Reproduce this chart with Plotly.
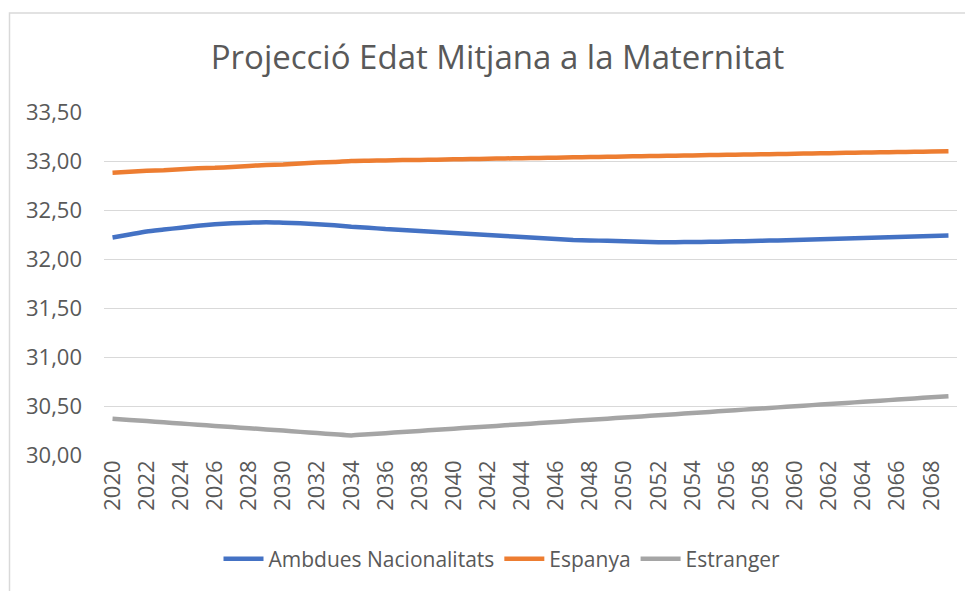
import plotly.graph_objects as go

years = [str(y) for y in range(2020, 2070)]

ambdues = [32.22, 32.25, 32.28, 32.30, 32.32, 32.34, 32.355, 32.365, 32.37, 32.375,
           32.37, 32.365, 32.355, 32.345, 32.33, 32.32, 32.305, 32.295, 32.285, 32.275,
           32.265, 32.255, 32.245, 32.235, 32.225, 32.215, 32.205, 32.195, 32.19, 32.185,
           32.18, 32.175, 32.172, 32.172, 32.173, 32.175, 32.178, 32.182, 32.186, 32.19,
           32.195, 32.20, 32.205, 32.21, 32.215, 32.22, 32.225, 32.23, 32.235, 32.24]

espanya = [32.88, 32.89, 32.90, 32.905, 32.915, 32.925, 32.93, 32.94, 32.95, 32.96,
           32.965, 32.975, 32.985, 32.99, 33.00, 33.003, 33.006, 33.009, 33.011, 33.014,
           33.017, 33.020, 33.023, 33.026, 33.029, 33.031, 33.034, 33.037, 33.040, 33.043,
           33.046, 33.049, 33.051, 33.054, 33.057, 33.060, 33.063, 33.066, 33.069, 33.071,
           33.074, 33.077, 33.080, 33.083, 33.086, 33.089, 33.091, 33.094, 33.097, 33.100]

estranger = [30.37, 30.358, 30.346, 30.334, 30.321, 30.309, 30.297, 30.285, 30.273, 30.261,
             30.249, 30.236, 30.224, 30.212, 30.20, 30.211, 30.223, 30.234, 30.246, 30.257,
             30.269, 30.28, 30.291, 30.303, 30.314, 30.326, 30.337, 30.349, 30.36, 30.371,
             30.383, 30.394, 30.406, 30.417, 30.429, 30.44, 30.451, 30.463, 30.474, 30.486,
             30.497, 30.509, 30.52, 30.531, 30.543, 30.554, 30.566, 30.577, 30.589, 30.60]

series_names = ["Ambdues Nacionalitats", "Espanya", "Estranger"]
series_colors = ["#4472C4", "#ED7D31", "#A5A5A5"]
y_ticks = [30.0, 30.5, 31.0, 31.5, 32.0, 32.5, 33.0, 33.5]
y_ticklabels = ["30,00", "30,50", "31,00", "31,50", "32,00", "32,50", "33,00", "33,50"]
x_ticks = years[::2]

fig = go.Figure()
for name, vals, col in zip(series_names, [ambdues, espanya, estranger], series_colors):
    fig.add_trace(go.Scatter(x=years, y=vals, name=name, mode="lines",
                             line=dict(color=col, width=4.5, shape="spline", smoothing=0.6)))

# page has an 8px body margin; figure is sized so it fits the 973x591 window
OFF = 8
W, H = 973 - OFF, 591 - OFF
ml, mt = 104 - OFF, 112 - OFF
mr = W - (957 - OFF)
mb = H - (455 - OFF)
pw = W - ml - mr
ph = H - mt - mb

fig.update_layout(
    width=W, height=H,
    margin=dict(l=ml, r=mr, t=mt, b=mb, pad=0),
    paper_bgcolor="white", plot_bgcolor="white",
    font=dict(family="Open Sans, Liberation Sans, sans-serif", color="#595959"),
    title=dict(text="Projecció Edat Mitjana a la Maternitat", x=(497.5 - OFF) / W,
               xanchor="center", y=1 - (57 - OFF) / H, yanchor="middle",
               font=dict(size=33, color="#595959", family="Open Sans, sans-serif")),
    xaxis=dict(type="category", range=[-0.5, 49.5], tickmode="array",
               tickvals=x_ticks, ticktext=x_ticks, tickangle=-90,
               tickfont=dict(size=22, color="#595959"), showgrid=False,
               showline=False, ticks="", zeroline=False, automargin=False),
    yaxis=dict(range=[30.0, 33.5], tickmode="array", tickvals=y_ticks,
               ticktext=y_ticklabels, tickfont=dict(size=22, color="#595959"),
               showgrid=True, gridcolor="#D9D9D9", gridwidth=1, zeroline=False,
               showline=False, ticks="", ticklabelstandoff=21, automargin=False),
    legend=dict(orientation="h", x=(502 - 104) / pw, xanchor="center",
                y=-(559 - 455) / ph, yanchor="middle",
                font=dict(size=21, color="#595959"), itemwidth=40),
    showlegend=True,
)

# chart-area border (light grey frame)
fig.add_shape(type="rect", xref="paper", yref="paper",
              x0=(9.5 - 104) / pw, x1=(W + 20 - ml) / pw,
              y0=-(H + 20 - (H - mb)) / ph, y1=1 + (112 - 13) / ph,
              line=dict(color="#D9D9D9", width=1.5), fillcolor="rgba(0,0,0,0)", layer="below")

fig.write_html("out.html")
